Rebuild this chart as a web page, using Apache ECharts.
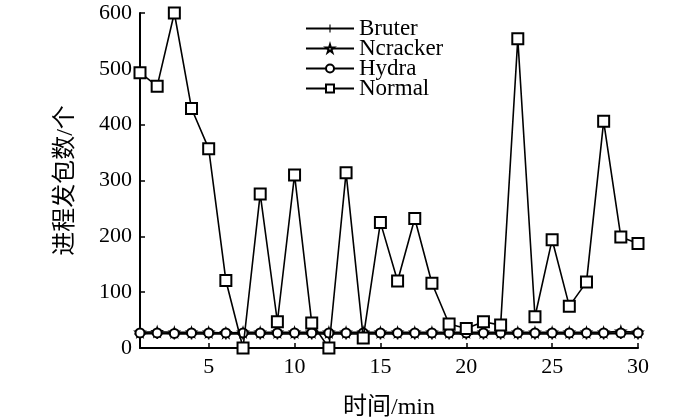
<!DOCTYPE html>
<html><head><meta charset="utf-8">
<script src="https://cdn.jsdelivr.net/npm/echarts@6/dist/echarts.min.js"></script>
<style>html,body{margin:0;padding:0;background:#fff}#c{width:700px;height:420px}</style>
</head><body><div id="c"></div>
<script>
const minutes = [1,2,3,4,5,6,7,8,9,10,11,12,13,14,15,16,17,18,19,20,21,22,23,24,25,26,27,28,29,30];
const bruter   = [25,26,25,25,25,25,25,25,25,25,25,25,25,25,25,25,25,25,25,25,25,25,25,25,25,25,25,25,26,25];
const ncracker = [28,29,28,28,28,27,28,28,28,28,28,28,28,28,28,28,28,28,28,28,28,28,28,28,28,28,28,28,30,28];
const hydra    = [27,27,26,27,27,27,27,27,27,27,27,27,27,27,27,27,27,27,27,27,27,27,27,27,27,27,27,27,27,27];
const normal   = [493,469,600,429,357,121,0,276,47,310,45,0,314,18,225,120,232,116,43,35,47,41,554,56,194,75,118,406,199,187];
const xTicks = [5,10,15,20,25,30];

const serif = "'Liberation Serif','Times New Roman','Noto Sans CJK SC',serif";
const plusPath = 'path://M4.3,0 L5.7,0 L5.7,4.3 L10,4.3 L10,5.7 L5.7,5.7 L5.7,10 L4.3,10 L4.3,5.7 L0,5.7 L0,4.3 L4.3,4.3 Z';
const starPath = 'path://M50,0 L61,35 L98,35 L68,57 L79,91 L50,70 L21,91 L32,57 L2,35 L39,35 Z';

function pts(arr){ return minutes.map((m,i)=>[m,arr[i]]); }
const base = {type:'line', lineStyle:{color:'#000', width:1.6}, itemStyle:{color:'#000', borderColor:'#000', borderWidth:1.4}, animation:false, z:2};

const chart = echarts.init(document.getElementById('c'), null, {renderer:'canvas'});
chart.setOption({
  backgroundColor:'#fff',
  animation:false,
  grid:{left:140, right:62, top:13, bottom:72, containLabel:false, outerBoundsMode:'none'},
  legend:{
    orient:'vertical', left:300, top:12, itemWidth:48, itemHeight:10, itemGap:-3,
    textStyle:{fontFamily:serif, fontSize:23, color:'#000', lineHeight:20, padding:[0,0,0,0]},
    data:['Bruter','Ncracker','Hydra','Normal']
  },
  xAxis:{
    type:'value', min:1, max:30,
    name:'时间/min', nameLocation:'middle', nameGap:48,
    nameTextStyle:{fontFamily:serif, fontSize:24, color:'#000'},
    axisLine:{lineStyle:{color:'#000', width:2}},
    axisTick:{inside:true, length:5, lineStyle:{color:'#000', width:1.5}, customValues:xTicks},
    axisLabel:{fontFamily:serif, fontSize:22, color:'#000', margin:8, customValues:xTicks},
    splitLine:{show:false}
  },
  yAxis:{
    type:'value', min:0, max:600, interval:100,
    name:'进程发包数/个', nameLocation:'middle', nameGap:62, nameRotate:90,
    nameTextStyle:{fontFamily:serif, fontSize:24, color:'#000'},
    axisLine:{show:true, lineStyle:{color:'#000', width:2}},
    axisTick:{show:true, inside:true, length:5, lineStyle:{color:'#000', width:1.5}},
    axisLabel:{fontFamily:serif, fontSize:22, color:'#000', margin:8},
    splitLine:{show:false}
  },
  series:[
    Object.assign({}, base, {name:'Bruter', data:pts(bruter), symbol:plusPath, symbolSize:11, itemStyle:{color:'#000', borderColor:'#000', borderWidth:0}}),
    Object.assign({}, base, {name:'Ncracker', data:pts(ncracker), symbol:starPath, symbolSize:10, itemStyle:{color:'#fff', borderColor:'#000', borderWidth:1.3}}),
    Object.assign({}, base, {name:'Hydra', data:pts(hydra), symbol:'emptyCircle', symbolSize:9}),
    Object.assign({}, base, {name:'Normal', data:pts(normal), symbol:'emptyRect', symbolSize:11, z:3})
  ]
});
</script></body></html>
